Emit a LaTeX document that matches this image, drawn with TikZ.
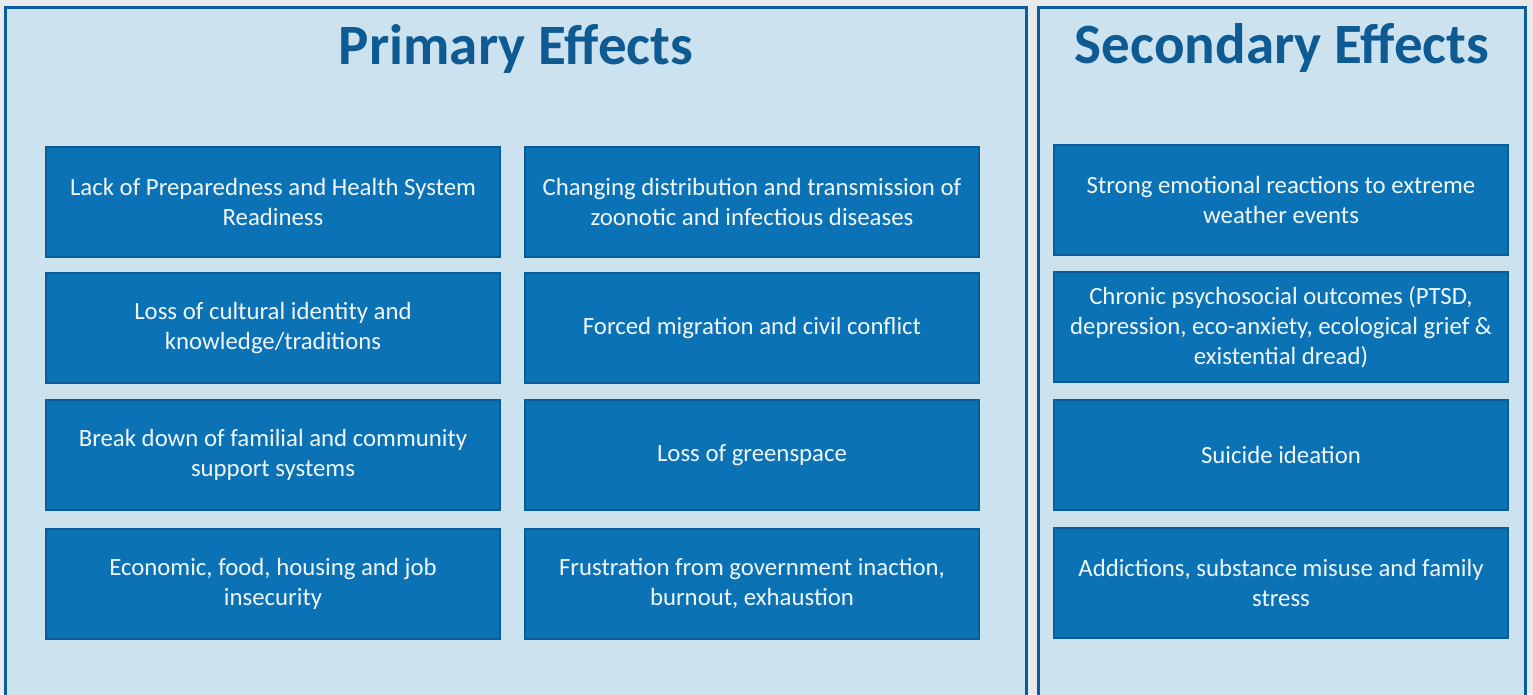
\documentclass[tikz,border=0pt]{standalone}
\usepackage{fontspec}
\setmainfont{Carlito}
\definecolor{pagebg}{HTML}{E6EAED}
\definecolor{panelfill}{HTML}{CDE2EF}
\definecolor{panelline}{HTML}{0B5C9A}
\definecolor{boxfill}{HTML}{0B72B5}
\definecolor{boxline}{HTML}{095C96}
\definecolor{titleblue}{HTML}{0E5A93}
\begin{document}
\begin{tikzpicture}[x=1pt,y=-1pt,
  panel/.style={draw=panelline,line width=3pt,fill=panelfill},
  effect/.style={draw=boxline,line width=2pt,fill=boxfill,text=white!94!boxfill,
    minimum width=454pt,minimum height=110pt,align=center,
    inner sep=0pt,font=\fontsize{24.8}{30}\selectfont},
  heading/.style={text=titleblue,font=\fontsize{57}{60}\selectfont\bfseries,inner sep=0pt}]
\useasboundingbox[fill=pagebg] (0,0) rectangle (1533,694);
% panels
\begin{scope}
\clip (0,0) rectangle (1533,694);
\draw[panel] (5.5,7) rectangle (1026.5,710);
\draw[panel] (1038.5,7) rectangle (1525.5,710);
\end{scope}
% headings
\node[heading] (ptitle) at (516,49) {Primary Effects};
\node[heading] (stitle) at (1282,48) {Secondary Effects};
% primary effects, left column
\node[effect] (p1) at (273,201.5) {Lack of Preparedness and Health System\\Readiness};
\node[effect] (p2) at (273,328) {Loss of cultural identity and\\knowledge/traditions};
\node[effect] (p3) at (273,455) {Break down of familial and community\\support systems};
\node[effect] (p4) at (273,584) {Economic, food, housing and job\\insecurity};
% primary effects, right column
\node[effect] (q1) at (752,201.5) {Changing distribution and transmission of\\zoonotic and infectious diseases};
\node[effect] (q2) at (752,328) {Forced migration and civil conflict};
\node[effect] (q3) at (752,455) {Loss of greenspace};
\node[effect] (q4) at (752,584) {Frustration from government inaction,\\burnout, exhaustion};
% secondary effects
\node[effect] (s1) at (1281,199.5) {Strong emotional reactions to extreme\\weather events};
\node[effect] (s2) at (1281,327) {Chronic psychosocial outcomes (PTSD,\\depression, eco-anxiety, ecological grief \&\\existential dread)};
\node[effect] (s3) at (1281,455) {Suicide ideation};
\node[effect] (s4) at (1281,583) {Addictions, substance misuse and family\\stress};
\end{tikzpicture}
\end{document}
